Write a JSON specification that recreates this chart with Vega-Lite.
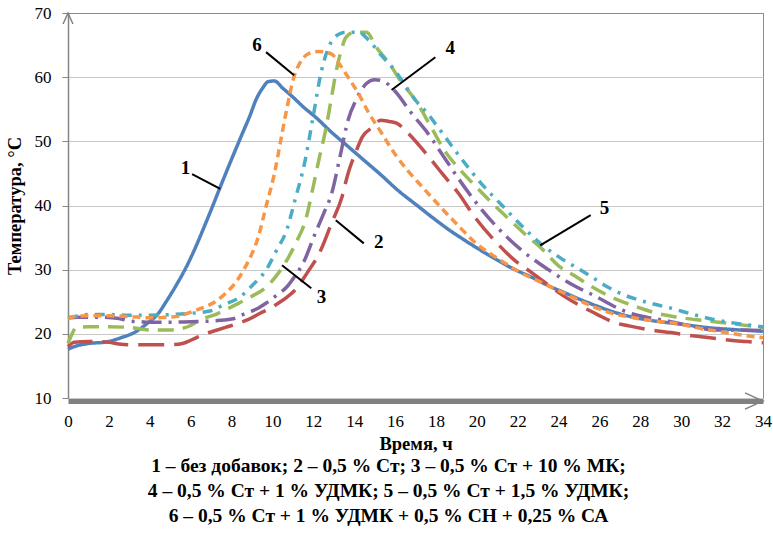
{
  "$schema": "https://vega.github.io/schema/vega-lite/v6.json",
  "width": 695,
  "height": 385,
  "autosize": "none",
  "padding": {"left": 68, "top": 13, "right": 10, "bottom": 140},
  "background": "white",
  "config": {
    "font": "Liberation Serif",
    "view": {"stroke": "#8c8c8c", "strokeWidth": 1}
  },
  "title": {
    "text": ["1 – без добавок; 2 – 0,5 % Ст; 3 – 0,5 % Ст + 10 % МК;", "4 – 0,5 % Ст + 1 % УДМК; 5 – 0,5 % Ст + 1,5 % УДМК;", "6 – 0,5 % Ст + 1 % УДМК + 0,5 % СН + 0,25 % СА"],
    "orient": "bottom",
    "anchor": "middle",
    "font": "Liberation Serif",
    "fontSize": 19.5,
    "fontWeight": "bold",
    "lineHeight": 25,
    "offset": 4,
    "dx": -27,
    "color": "black"
  },
  "datasets": {
    "curves": [
      {"s":"1","h":0,"t":17.6},{"s":"1","h":0.3,"t":18.0},{"s":"1","h":1,"t":18.5},{"s":"1","h":1.8,"t":18.7},{"s":"1","h":2.6,"t":19.4},{"s":"1","h":3.3,"t":20.3},{"s":"1","h":3.9,"t":21.7},{"s":"1","h":4.4,"t":23.1},{"s":"1","h":4.8,"t":25.0},{"s":"1","h":5.3,"t":27.6},{"s":"1","h":5.8,"t":30.5},{"s":"1","h":6.2,"t":33.2},{"s":"1","h":6.6,"t":36.2},{"s":"1","h":7.0,"t":39.3},{"s":"1","h":7.4,"t":42.5},{"s":"1","h":8.0,"t":47.2},{"s":"1","h":8.5,"t":51},{"s":"1","h":8.9,"t":54},{"s":"1","h":9.2,"t":56.5},{"s":"1","h":9.5,"t":58.2},{"s":"1","h":9.8,"t":59.3},{"s":"1","h":10.1,"t":59.4},{"s":"1","h":10.5,"t":58.3},{"s":"1","h":11.0,"t":56.9},{"s":"1","h":11.5,"t":55.4},{"s":"1","h":12.1,"t":53.8},{"s":"1","h":12.9,"t":51.4},{"s":"1","h":13.7,"t":49.2},{"s":"1","h":14.5,"t":47},{"s":"1","h":15.3,"t":44.8},{"s":"1","h":16.2,"t":42.2},{"s":"1","h":17.0,"t":40.2},{"s":"1","h":17.8,"t":38.2},{"s":"1","h":18.6,"t":36.3},{"s":"1","h":19.4,"t":34.6},{"s":"1","h":20.2,"t":33},{"s":"1","h":21.0,"t":31.5},{"s":"1","h":21.8,"t":30.1},{"s":"1","h":22.7,"t":28.8},{"s":"1","h":23.5,"t":27.5},{"s":"1","h":24.3,"t":26.4},{"s":"1","h":25.1,"t":25.3},{"s":"1","h":25.9,"t":24.3},{"s":"1","h":26.7,"t":23.4},{"s":"1","h":27.5,"t":22.7},{"s":"1","h":28.5,"t":22.1},{"s":"1","h":30,"t":21.5},{"s":"1","h":31.2,"t":21},{"s":"1","h":32.4,"t":20.7},{"s":"1","h":34,"t":20.4},

      {"s":"2","h":0,"t":18.0},{"s":"2","h":0.3,"t":18.7},{"s":"2","h":1,"t":18.8},{"s":"2","h":2,"t":18.7},{"s":"2","h":2.5,"t":18.4},{"s":"2","h":3,"t":18.3},{"s":"2","h":4,"t":18.3},{"s":"2","h":5,"t":18.3},{"s":"2","h":5.6,"t":18.5},{"s":"2","h":6,"t":19},{"s":"2","h":6.7,"t":20},{"s":"2","h":7.3,"t":20.6},{"s":"2","h":7.8,"t":21.1},{"s":"2","h":8.3,"t":21.6},{"s":"2","h":8.8,"t":22.2},{"s":"2","h":9.4,"t":23.2},{"s":"2","h":9.9,"t":24},{"s":"2","h":10.3,"t":24.8},{"s":"2","h":10.7,"t":25.7},{"s":"2","h":11.1,"t":26.8},{"s":"2","h":11.7,"t":29.5},{"s":"2","h":12.3,"t":32.6},{"s":"2","h":12.9,"t":37.3},{"s":"2","h":13.4,"t":41.3},{"s":"2","h":13.7,"t":45},{"s":"2","h":14.1,"t":48.5},{"s":"2","h":14.4,"t":50.7},{"s":"2","h":14.9,"t":52.2},{"s":"2","h":15.3,"t":53.3},{"s":"2","h":15.7,"t":53.1},{"s":"2","h":16.1,"t":52.8},{"s":"2","h":16.5,"t":51.7},{"s":"2","h":17.2,"t":49.3},{"s":"2","h":17.8,"t":47},{"s":"2","h":18.3,"t":45},{"s":"2","h":19.1,"t":41.9},{"s":"2","h":19.9,"t":38.2},{"s":"2","h":21,"t":34.1},{"s":"2","h":21.8,"t":31.6},{"s":"2","h":22.7,"t":29.5},{"s":"2","h":23.5,"t":27.6},{"s":"2","h":24.3,"t":25.8},{"s":"2","h":25.1,"t":24.3},{"s":"2","h":25.9,"t":23},{"s":"2","h":26.7,"t":21.8},{"s":"2","h":27.5,"t":21.2},{"s":"2","h":28.5,"t":20.6},{"s":"2","h":29.5,"t":20.2},{"s":"2","h":30.3,"t":19.8},{"s":"2","h":31.4,"t":19.4},{"s":"2","h":32.4,"t":19},{"s":"2","h":33.2,"t":18.8},{"s":"2","h":34,"t":18.6},

      {"s":"3","h":0,"t":18.5},{"s":"3","h":0.2,"t":20},{"s":"3","h":0.4,"t":21},{"s":"3","h":1,"t":21.1},{"s":"3","h":2,"t":21.1},{"s":"3","h":3,"t":21},{"s":"3","h":3.5,"t":20.8},{"s":"3","h":4,"t":20.6},{"s":"3","h":5,"t":20.6},{"s":"3","h":5.5,"t":20.8},{"s":"3","h":6,"t":21.3},{"s":"3","h":6.4,"t":22.1},{"s":"3","h":7.2,"t":23},{"s":"3","h":8,"t":24.2},{"s":"3","h":8.9,"t":25.7},{"s":"3","h":9.7,"t":27.3},{"s":"3","h":10.3,"t":29.5},{"s":"3","h":10.8,"t":32},{"s":"3","h":11.2,"t":34.5},{"s":"3","h":11.6,"t":37.5},{"s":"3","h":12.0,"t":43},{"s":"3","h":12.3,"t":47.5},{"s":"3","h":12.6,"t":51.7},{"s":"3","h":12.9,"t":57},{"s":"3","h":13.1,"t":60.6},{"s":"3","h":13.35,"t":64},{"s":"3","h":13.6,"t":66.2},{"s":"3","h":14.0,"t":67},{"s":"3","h":14.6,"t":67},{"s":"3","h":15.1,"t":64.6},{"s":"3","h":15.7,"t":62.2},{"s":"3","h":16.3,"t":59.3},{"s":"3","h":17.0,"t":56.4},{"s":"3","h":17.8,"t":52},{"s":"3","h":18.5,"t":48.2},{"s":"3","h":19.2,"t":45.5},{"s":"3","h":20.0,"t":42.8},{"s":"3","h":20.8,"t":40.2},{"s":"3","h":21.6,"t":37.8},{"s":"3","h":22.4,"t":35.4},{"s":"3","h":23.2,"t":33.2},{"s":"3","h":24.0,"t":30.6},{"s":"3","h":24.8,"t":29},{"s":"3","h":25.6,"t":27.4},{"s":"3","h":26.4,"t":26},{"s":"3","h":27.2,"t":24.9},{"s":"3","h":28.0,"t":24},{"s":"3","h":28.8,"t":23.2},{"s":"3","h":29.8,"t":22.6},{"s":"3","h":31,"t":22.1},{"s":"3","h":32.4,"t":21.6},{"s":"3","h":34,"t":21.0},

      {"s":"4","h":0,"t":22.5},{"s":"4","h":0.5,"t":22.6},{"s":"4","h":1.5,"t":22.6},{"s":"4","h":2.5,"t":22.4},{"s":"4","h":3,"t":22.0},{"s":"4","h":3.5,"t":21.9},{"s":"4","h":4,"t":21.8},{"s":"4","h":5,"t":21.8},{"s":"4","h":6,"t":21.9},{"s":"4","h":7,"t":22},{"s":"4","h":8,"t":22.3},{"s":"4","h":8.7,"t":23.2},{"s":"4","h":9.3,"t":24},{"s":"4","h":9.7,"t":24.8},{"s":"4","h":10.2,"t":26},{"s":"4","h":10.7,"t":27.3},{"s":"4","h":11.1,"t":29},{"s":"4","h":11.5,"t":31},{"s":"4","h":12.1,"t":35.7},{"s":"4","h":12.5,"t":38.7},{"s":"4","h":12.9,"t":41.9},{"s":"4","h":13.3,"t":47.5},{"s":"4","h":13.7,"t":53.3},{"s":"4","h":14.1,"t":56.5},{"s":"4","h":14.6,"t":59},{"s":"4","h":15.0,"t":59.6},{"s":"4","h":15.4,"t":59.4},{"s":"4","h":16.0,"t":57.8},{"s":"4","h":16.8,"t":54.4},{"s":"4","h":17.5,"t":51.7},{"s":"4","h":18.3,"t":48},{"s":"4","h":19.1,"t":44.2},{"s":"4","h":20.0,"t":40.3},{"s":"4","h":21.0,"t":36.6},{"s":"4","h":22.2,"t":33},{"s":"4","h":23.5,"t":30},{"s":"4","h":24.7,"t":27.6},{"s":"4","h":25.9,"t":25.7},{"s":"4","h":26.7,"t":24.3},{"s":"4","h":27.5,"t":23.2},{"s":"4","h":28.3,"t":22.6},{"s":"4","h":29.2,"t":22.1},{"s":"4","h":30.4,"t":21.3},{"s":"4","h":31.6,"t":20.6},{"s":"4","h":33,"t":20.6},{"s":"4","h":34,"t":20.5},

      {"s":"5","h":0,"t":22.5},{"s":"5","h":0.5,"t":22.8},{"s":"5","h":1,"t":23},{"s":"5","h":2,"t":23},{"s":"5","h":3,"t":22.9},{"s":"5","h":4,"t":22.9},{"s":"5","h":5,"t":23},{"s":"5","h":6,"t":23.2},{"s":"5","h":7,"t":23.6},{"s":"5","h":7.6,"t":24.5},{"s":"5","h":8.4,"t":25.7},{"s":"5","h":9.0,"t":27.5},{"s":"5","h":9.7,"t":30},{"s":"5","h":10.2,"t":33},{"s":"5","h":10.7,"t":36.2},{"s":"5","h":11.1,"t":40.8},{"s":"5","h":11.6,"t":47},{"s":"5","h":12.0,"t":54},{"s":"5","h":12.4,"t":61},{"s":"5","h":12.8,"t":65},{"s":"5","h":13.2,"t":66.6},{"s":"5","h":13.6,"t":67},{"s":"5","h":14.2,"t":67},{"s":"5","h":14.7,"t":65.8},{"s":"5","h":15.3,"t":63.5},{"s":"5","h":16.0,"t":61},{"s":"5","h":16.5,"t":58.7},{"s":"5","h":17.0,"t":56.4},{"s":"5","h":17.6,"t":54.3},{"s":"5","h":18.1,"t":52.2},{"s":"5","h":19.1,"t":47.9},{"s":"5","h":20.2,"t":43.5},{"s":"5","h":21.3,"t":39.8},{"s":"5","h":22.4,"t":36.2},{"s":"5","h":23.1,"t":34.1},{"s":"5","h":24.1,"t":31.8},{"s":"5","h":25.1,"t":29.9},{"s":"5","h":25.8,"t":28.5},{"s":"5","h":26.4,"t":27.3},{"s":"5","h":27.1,"t":26.2},{"s":"5","h":27.9,"t":25.3},{"s":"5","h":28.7,"t":24.6},{"s":"5","h":29.5,"t":24},{"s":"5","h":30.6,"t":23},{"s":"5","h":31.8,"t":22.1},{"s":"5","h":33,"t":21.5},{"s":"5","h":34,"t":21.1},

      {"s":"6","h":0,"t":22.3},{"s":"6","h":0.3,"t":22.7},{"s":"6","h":1,"t":22.8},{"s":"6","h":2,"t":22.8},{"s":"6","h":3,"t":22.7},{"s":"6","h":4,"t":22.5},{"s":"6","h":5,"t":22.6},{"s":"6","h":5.5,"t":22.8},{"s":"6","h":6.1,"t":23.5},{"s":"6","h":6.7,"t":24.2},{"s":"6","h":7.2,"t":25},{"s":"6","h":7.7,"t":26.3},{"s":"6","h":8.2,"t":28},{"s":"6","h":8.6,"t":30},{"s":"6","h":9.0,"t":32.5},{"s":"6","h":9.3,"t":35},{"s":"6","h":9.7,"t":40},{"s":"6","h":10.1,"t":45},{"s":"6","h":10.4,"t":50},{"s":"6","h":10.7,"t":55},{"s":"6","h":11.05,"t":60},{"s":"6","h":11.4,"t":62.5},{"s":"6","h":11.8,"t":63.7},{"s":"6","h":12.3,"t":64},{"s":"6","h":12.9,"t":63.6},{"s":"6","h":13.2,"t":62.4},{"s":"6","h":13.7,"t":60},{"s":"6","h":14.2,"t":57.5},{"s":"6","h":14.7,"t":54.5},{"s":"6","h":15.3,"t":51.5},{"s":"6","h":16.0,"t":48},{"s":"6","h":16.6,"t":45.5},{"s":"6","h":17.3,"t":43},{"s":"6","h":18.3,"t":39.5},{"s":"6","h":19.2,"t":36.5},{"s":"6","h":20.0,"t":34},{"s":"6","h":20.9,"t":32},{"s":"6","h":22.0,"t":29.8},{"s":"6","h":23.3,"t":27.8},{"s":"6","h":24.5,"t":26},{"s":"6","h":25.5,"t":24.5},{"s":"6","h":26.5,"t":23.3},{"s":"6","h":27.5,"t":22.6},{"s":"6","h":28.5,"t":22.1},{"s":"6","h":29.8,"t":21.6},{"s":"6","h":31,"t":20.8},{"s":"6","h":32,"t":20.3},{"s":"6","h":33,"t":19.8},{"s":"6","h":34,"t":19.4}
    ],
    "labels": [
      {"lab":"1","h":5.75,"t":45.9},
      {"lab":"6","h":9.25,"t":65},
      {"lab":"4","h":18.7,"t":64.5},
      {"lab":"2","h":15.2,"t":34.3},
      {"lab":"3","h":12.4,"t":25.7},
      {"lab":"5","h":26.25,"t":39.6}
    ],
    "leaders": [
      {"h1":6.07,"t1":44.9,"h2":7.45,"t2":42.6},
      {"h1":9.69,"t1":63.9,"h2":11.06,"t2":60.3},
      {"h1":17.97,"t1":63.1,"h2":15.83,"t2":58.0},
      {"h1":13.1,"t1":37.7,"h2":14.47,"t2":34.1},
      {"h1":10.47,"t1":30.7,"h2":11.9,"t2":27.1},
      {"h1":25.57,"t1":38.5,"h2":23.1,"t2":33.8}
    ]
  },
  "layer": [
    {
      "data": {"name": "curves"},
      "mark": {"type": "line", "strokeWidth": 3.5, "interpolate": "monotone", "strokeCap": "butt"},
      "encoding": {
        "x": {
          "field": "h", "type": "quantitative",
          "scale": {"domain": [0, 34], "nice": false, "zero": false},
          "axis": {
            "values": [0,2,4,6,8,10,12,14,16,18,20,22,24,26,28,30,32,34],
            "title": "Время, ч",
            "grid": false,
            "ticks": false,
            "domainColor": "#808080",
            "domainWidth": 5,
            "offset": 3,
            "labelFont": "Liberation Serif",
            "labelFontSize": 17,
            "labelColor": "black",
            "labelPadding": 12,
            "labelFlush": false,
            "labelOverlap": false,
            "titleFont": "Liberation Serif",
            "titleFontSize": 18.5,
            "titleFontWeight": "bold",
            "titleColor": "black",
            "titlePadding": 5
          }
        },
        "y": {
          "field": "t", "type": "quantitative",
          "scale": {"domain": [10, 70], "nice": false, "zero": false},
          "axis": {
            "values": [10,20,30,40,50,60,70],
            "title": "Температура, °С",
            "grid": true,
            "gridColor": {"condition": {"test": "datum.value == 70", "value": "#8c8c8c"}, "value": "#c8c8c8"},
            "gridWidth": 1,
            "domainColor": "#868686",
            "domainWidth": 1.5,
            "tickColor": "#868686",
            "tickSize": 6,
            "labelFont": "Liberation Serif",
            "labelFontSize": 17,
            "labelColor": "black",
            "labelPadding": 11,
            "labelFlush": false,
            "titleFont": "Liberation Serif",
            "titleFontSize": 18.5,
            "titleFontWeight": "bold",
            "titleColor": "black",
            "titlePadding": 10
          }
        },
        "color": {
          "field": "s", "type": "nominal", "legend": null,
          "scale": {"domain": ["1","2","3","4","5","6"], "range": ["#4F81BD","#C0504D","#9BBB59","#8064A2","#4BACC6","#F79646"]}
        },
        "strokeDash": {
          "field": "s", "type": "nominal", "legend": null,
          "scale": {"domain": ["1","2","3","4","5","6"], "range": [[1,0],[26,10],[16,9],[20,7,3,7],[10,7,3,7],[8,5]]}
        }
      }
    },
    {
      "data": {"name": "leaders"},
      "mark": {"type": "rule", "color": "black", "strokeWidth": 2},
      "encoding": {
        "x": {"field": "h1", "type": "quantitative"},
        "y": {"field": "t1", "type": "quantitative"},
        "x2": {"field": "h2"},
        "y2": {"field": "t2"}
      }
    },
    {
      "data": {"name": "labels"},
      "mark": {"type": "text", "font": "Liberation Serif", "fontSize": 19, "fontWeight": "bold", "color": "black", "align": "center", "baseline": "middle"},
      "encoding": {
        "x": {"field": "h", "type": "quantitative"},
        "y": {"field": "t", "type": "quantitative"},
        "text": {"field": "lab"}
      }
    },
    {
      "data": {"values": [{"h": 0, "t": 70}]},
      "mark": {"type": "point", "shape": "M-0.45,1L0,0L0.45,1", "size": 484, "filled": false, "stroke": "#808080", "strokeWidth": 1.5, "opacity": 1},
      "encoding": {
        "x": {"field": "h", "type": "quantitative"},
        "y": {"field": "t", "type": "quantitative"}
      }
    },
    {
      "data": {"values": [{"h": 34, "t": 10}]},
      "mark": {"type": "point", "shape": "M-1,-0.45L0,0L-1,0.45", "size": 1296, "filled": false, "stroke": "#808080", "strokeWidth": 1.5, "opacity": 1, "yOffset": 3},
      "encoding": {
        "x": {"field": "h", "type": "quantitative"},
        "y": {"field": "t", "type": "quantitative"}
      }
    }
  ]
}
